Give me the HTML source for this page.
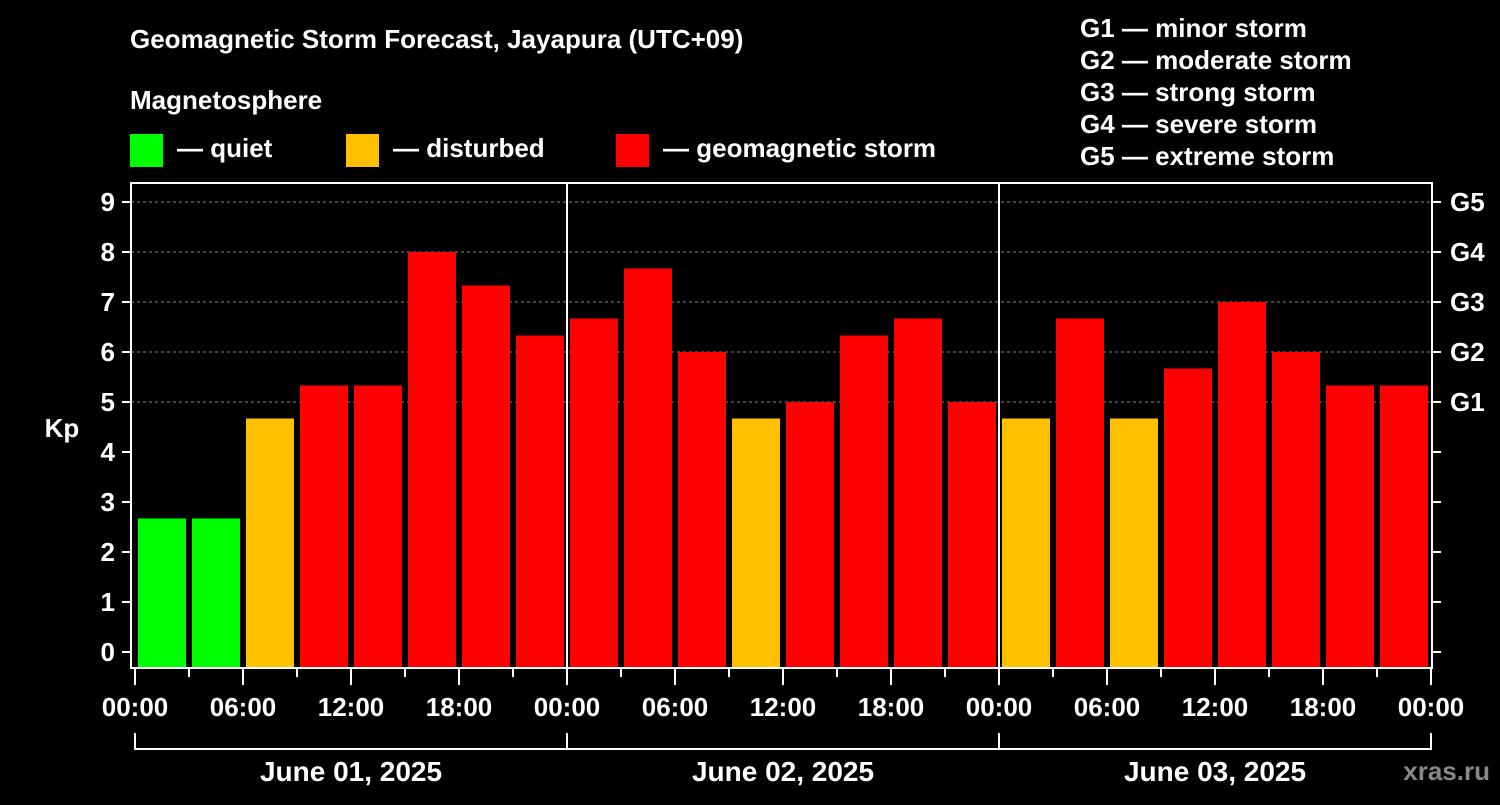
<!DOCTYPE html>
<html><head><meta charset="utf-8"><style>
body{margin:0;background:#000;width:1500px;height:800px;overflow:hidden}
svg text{font-family:"Liberation Sans",Arial,sans-serif;font-weight:bold;fill:#fff}
</style></head><body>
<svg id="c" width="1500" height="800" viewBox="0 0 1500 800">
<rect width="1500" height="800" fill="#000"/>
<text x="130" y="48" font-size="26">Geomagnetic Storm Forecast, Jayapura (UTC+09)</text>
<text x="130" y="109" font-size="26">Magnetosphere</text>
<rect x="130" y="134" width="33" height="33" fill="#00ff00"/>
<text x="177" y="157" font-size="26">— quiet</text>
<rect x="346" y="134" width="33" height="33" fill="#ffc000"/>
<text x="393" y="157" font-size="26">— disturbed</text>
<rect x="616" y="134" width="33" height="33" fill="#ff0000"/>
<text x="663" y="157" font-size="26">— geomagnetic storm</text>
<g font-size="26">
<text x="1080" y="37">G1 — minor storm</text>
<text x="1080" y="69">G2 — moderate storm</text>
<text x="1080" y="101">G3 — strong storm</text>
<text x="1080" y="133">G4 — severe storm</text>
<text x="1080" y="165">G5 — extreme storm</text>
</g>
<g id="grid"></g><g id="bars"></g><g id="axes"></g>
<text x="62" y="437" font-size="26" text-anchor="middle">Kp</text>
<text x="1490" y="780" font-size="26" text-anchor="end" fill="#888" style="fill:#888">xras.ru</text>
</svg>
<script>
const days=["June 01, 2025","June 02, 2025","June 03, 2025"];
const kp=[2.67,2.67,4.67,5.33,5.33,8,7.33,6.33, 6.67,7.67,6,4.67,5,6.33,6.67,5, 4.67,6.67,4.67,5.67,7,6,5.33,5.33];
const hourLabels=["00:00","06:00","12:00","18:00"];
const yTicks=[0,1,2,3,4,5,6,7,8,9];
const gLabels=["G1","G2","G3","G4","G5"];
const NS="http://www.w3.org/2000/svg";
const L=131,R=1432,T=183,B=668,X0=135,slot=54;
const y=v=>652-v*50, x=i=>X0+i*slot;
function mk(p,t,a){const e=document.createElementNS(NS,t);for(const k in a)e.setAttribute(k,a[k]);p.appendChild(e);return e;}
const grid=document.getElementById('grid'),bars=document.getElementById('bars'),ax=document.getElementById('axes');
[5,6,7,8,9].forEach(v=>{const l=mk(grid,'line',{x1:L,x2:R,y1:y(v),y2:y(v),stroke:'#888','stroke-dasharray':'3,3','stroke-width':1});

});
kp.forEach((v,i)=>{const c=v<4?'#00ff00':(v<5?'#ffc000':'#ff0000');
const r=mk(bars,'rect',{x:x(i)+3,y:y(v),width:48,height:B-y(v),fill:c});

});
const fr=mk(ax,'rect',{x:L,y:T,width:R-L,height:B-T,fill:'none',stroke:'#fff','stroke-width':2});


for(let d=1;d<days.length;d++){const l=mk(ax,'line',{x1:x(d*8),x2:x(d*8),y1:T,y2:B,stroke:'#fff','stroke-width':2});

}
yTicks.forEach(v=>{mk(ax,'line',{x1:122,x2:L,y1:y(v),y2:y(v),stroke:'#fff','stroke-width':2});
mk(ax,'line',{x1:R,x2:1441,y1:y(v),y2:y(v),stroke:'#fff','stroke-width':2});
const t=mk(ax,'text',{x:115,y:y(v)+9,'font-size':26,'text-anchor':'end'});t.textContent=v;


if(v>=5){const g=mk(ax,'text',{x:1450,y:y(v)+9,'font-size':26});g.textContent=gLabels[v-5];

}});
for(let i=0;i<=kp.length;i++){const major=i%2===0;
mk(ax,'line',{x1:x(i),x2:x(i),y1:B,y2:major?685:677,stroke:'#fff','stroke-width':2});
if(major){const t=mk(ax,'text',{x:x(i),y:716,'font-size':26,'text-anchor':'middle'});t.textContent=hourLabels[(i/2)%4];

}}
days.forEach((d,k)=>{const a=x(k*8),b=x(k*8+8);
mk(ax,'line',{x1:a,x2:b,y1:749,y2:749,stroke:'#fff','stroke-width':2});
mk(ax,'line',{x1:a,x2:a,y1:733,y2:750,stroke:'#fff','stroke-width':2});
if(k===days.length-1)mk(ax,'line',{x1:b,x2:b,y1:733,y2:750,stroke:'#fff','stroke-width':2});
const t=mk(ax,'text',{x:(a+b)/2,y:781,'font-size':28,'text-anchor':'middle'});t.textContent=d;

});
</script>
</body></html>
